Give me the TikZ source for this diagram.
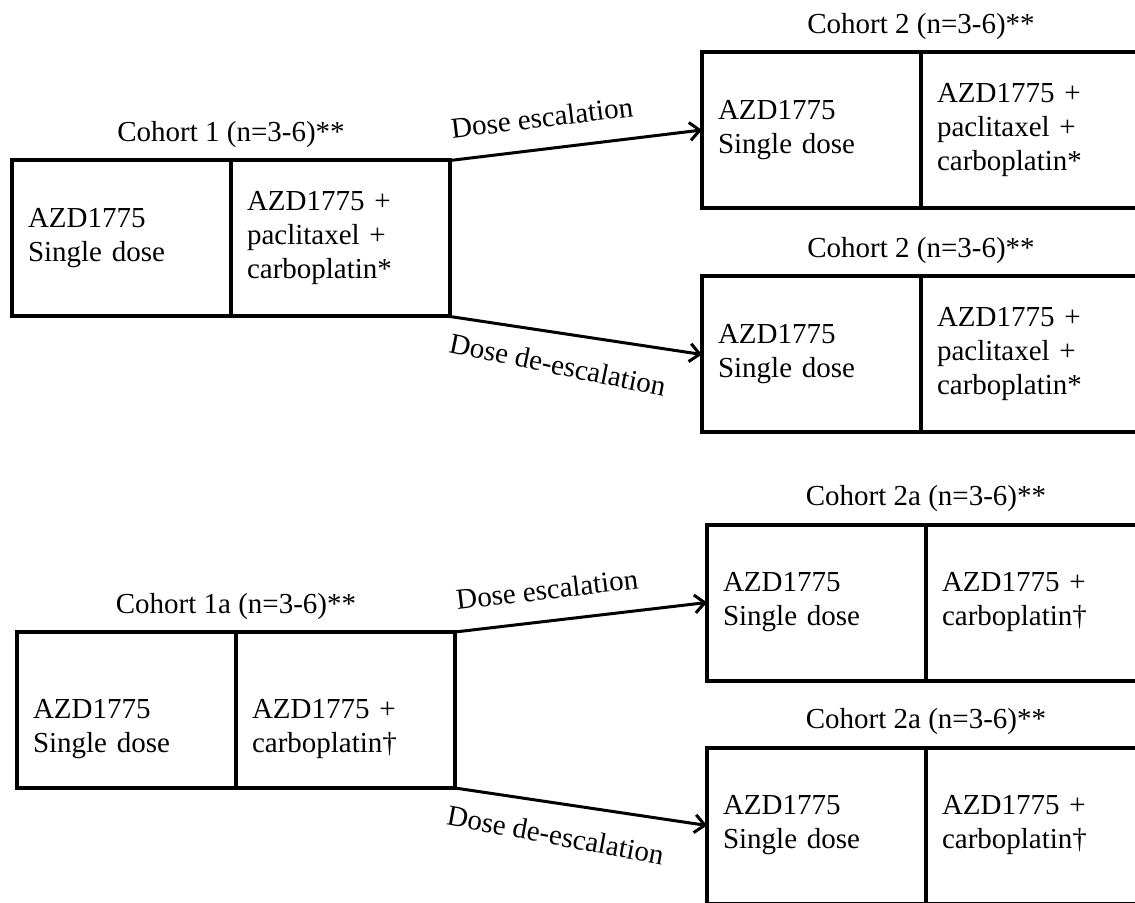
\documentclass[tikz,border=0pt]{standalone}
\usepackage{fontspec}
\setmainfont{Liberation Serif}
\usetikzlibrary{positioning, arrows.meta}

\begin{document}
\begin{tikzpicture}[
    x=0.5pt, y=-0.5pt,
    font=\fontsize{14.5}{17}\selectfont,
    cell/.style={
        rectangle,
        draw=black,
        line width=2pt,
        outer sep=0pt,
        align=left,
        inner xsep=8pt,
        text width=93.5pt,
        minimum height=78pt
    },
    title/.style={inner sep=0pt},
    lbl/.style={inner sep=2pt, sloped},
    arrow/.style={-{Straight Barb[length=5pt,width=9pt]}, line width=1.5pt}
]

\clip (0,0) rectangle (1135,903);

% cohort 1
\node[cell] (c1l) at (121.5,238.5) {AZD1775\\Single dose};
\node[cell, right=0pt of c1l] (c1r) {AZD1775 +\\paclitaxel +\\carboplatin*};
\node[title, above=6pt of c1l.north east] (t1) {Cohort 1 (n=3-6)**};

% cohort 2, escalation
\node[cell] (c2l) at (811.5,130) {AZD1775\\Single dose};
\node[cell, right=0pt of c2l] (c2r) {AZD1775 +\\paclitaxel +\\carboplatin*};
\node[title, above=6pt of c2l.north east] (t2) {Cohort 2 (n=3-6)**};

% cohort 2, de-escalation
\node[cell] (c3l) at (811.5,354.5) {AZD1775\\Single dose};
\node[cell, right=0pt of c3l] (c3r) {AZD1775 +\\paclitaxel +\\carboplatin*};
\node[title, above=6pt of c3l.north east] (t3) {Cohort 2 (n=3-6)**};

% cohort 1a
\node[cell] (c4l) at (126.5,710) {\strut\\AZD1775\\Single dose};
\node[cell, right=0pt of c4l] (c4r) {\strut\\AZD1775 +\\carboplatin\textdagger};
\node[title, above=6pt of c4l.north east] (t4) {Cohort 1a (n=3-6)**};

% cohort 2a, escalation
\node[cell] (c5l) at (816.5,602.5) {AZD1775\\Single dose};
\node[cell, right=0pt of c5l] (c5r) {AZD1775 +\\carboplatin\textdagger};
\node[title, above=6pt of c5l.north east] (t5) {Cohort 2a (n=3-6)**};

% cohort 2a, de-escalation
\node[cell] (c6l) at (816.5,825.5) {AZD1775\\Single dose};
\node[cell, right=0pt of c6l] (c6r) {AZD1775 +\\carboplatin\textdagger};
\node[title, above=6pt of c6l.north east] (t6) {Cohort 2a (n=3-6)**};

\draw[arrow] (c1r.north east) -- node[lbl, above=8pt, pos=0.38] (e1) {Dose escalation} (c2l.west);
\draw[arrow] (c1r.south east) -- node[lbl, below=8pt, pos=0.45, rotate=-3] (d1) {Dose de-escalation} (c3l.west);
\draw[arrow] (c4r.north east) -- node[lbl, above=8pt, pos=0.38] (e2) {Dose escalation} (c5l.west);
\draw[arrow] (c4r.south east) -- node[lbl, below=8pt, pos=0.42, rotate=-2] (d2) {Dose de-escalation} (c6l.west);

\end{tikzpicture}
\end{document}
